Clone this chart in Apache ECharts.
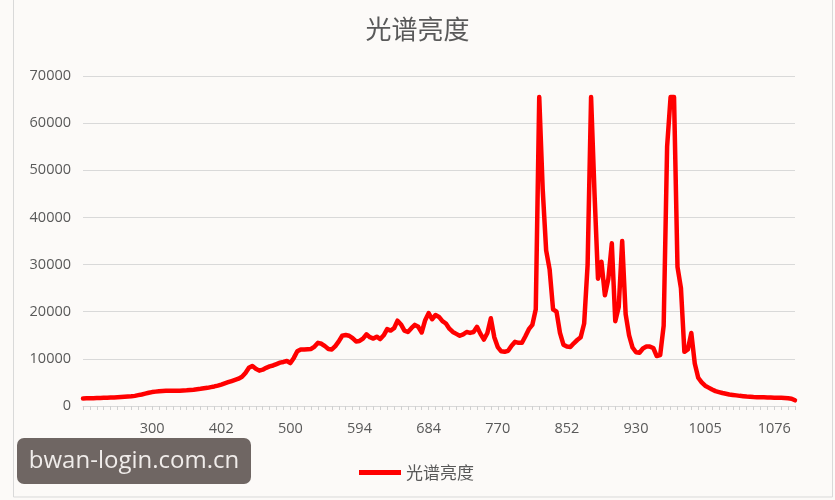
<!DOCTYPE html>
<html>
<head>
<meta charset="utf-8">
<script src="https://cdn.jsdelivr.net/npm/echarts@6/dist/echarts.min.js"></script>
<style>
html,body{margin:0;padding:0;background:#fcfaf8;}
#chart{width:835px;height:500px;}
</style>
</head>
<body>
<div id="chart"></div>
<script>
// Tick labels (wavelength, nm) shown every 20 samples
const tickLabels = ['300','402','500','594','684','770','852','930','1005','1076'];
const labelStep = 20;

// Spectrum brightness per sample (207 samples)
const brightness = [
  1600,1620,1640,1660,1680,1700,1730,1760,1790,1820,
  1860,1900,1940,1990,2050,2150,2300,2450,2620,2800,
  2950,3050,3150,3200,3220,3230,3220,3230,3260,3300,
  3340,3400,3460,3550,3640,3750,3850,4000,4150,4330,
  4550,4800,5050,5300,5550,5800,6200,7000,8100,8500,
  7900,7500,7700,8100,8400,8600,8900,9200,9350,9550,
  9100,10200,11600,12000,12000,12050,12100,12600,13400,13200,
  12700,12100,12000,12700,13700,14900,15050,14900,14400,13700,
  13800,14300,15200,14600,14300,14700,14200,15000,16300,16000,
  16500,18100,17300,16000,15700,16500,17200,16800,15600,18200,
  19700,18400,19300,18900,18000,17500,16400,15700,15300,14900,
  15200,15700,15500,15700,16800,15300,14100,15500,18600,14600,
  12500,11600,11500,11700,12800,13600,13400,13400,14800,16300,
  17200,20500,65535,46000,33000,29000,20500,20000,15500,13000,
  12600,12500,13300,14000,14600,17500,30000,65535,45000,27000,
  30600,23500,27000,34500,18000,21000,35000,19500,15000,12400,
  11400,11300,12200,12600,12600,12300,10600,10800,17000,55000,
  65535,65535,29500,25000,11500,12000,15500,9000,6000,5000,
  4300,3900,3500,3150,2950,2750,2600,2450,2350,2250,
  2150,2080,2000,1950,1900,1870,1850,1830,1800,1780,
  1770,1760,1740,1700,1650,1550,1200
];

const categories = brightness.map((_, i) => i);
const seriesName = '光谱亮度';

const chart = echarts.init(document.getElementById('chart'), null, {renderer: 'canvas'});
chart.setOption({
  backgroundColor: '#fcfaf8',
  animation: false,
  title: {
    text: '光谱亮度',
    left: 'center',
    top: 11,
    textStyle: {fontFamily: 'Noto Sans CJK SC', fontSize: 26, fontWeight: 'normal', color: '#595959'}
  },
  legend: {
    left: 354,
    top: 459,
    icon: 'rect',
    itemWidth: 42,
    itemHeight: 5,
    itemGap: 6,
    data: [seriesName],
    textStyle: {fontFamily: 'Noto Sans CJK SC', fontSize: 17, color: '#595959'}
  },
  grid: {left: 83, right: 40, top: 76, bottom: 94, containLabel: false},
  xAxis: {
    type: 'category',
    boundaryGap: false,
    data: categories,
    axisLine: {lineStyle: {color: '#d9d9d9', width: 1}},
    axisTick: {
      show: true,
      length: 4,
      interval: (idx) => idx % 2 === 0,
      lineStyle: {color: '#d0d0d0'}
    },
    axisLabel: {
      interval: (idx) => idx > 0 && idx % labelStep === 0,
      formatter: (val, idx) => {
        const k = Number(val) / labelStep - 1;
        return tickLabels[k] !== undefined ? tickLabels[k] : '';
      },
      margin: 15,
      fontFamily: 'Open Sans',
      fontSize: 14.5,
      color: '#595959'
    },
    splitLine: {show: false}
  },
  yAxis: {
    type: 'value',
    min: 0,
    max: 70000,
    interval: 10000,
    axisLine: {show: false},
    axisTick: {show: false},
    axisLabel: {
      margin: 12, fontFamily: 'Open Sans', fontSize: 14.5, color: '#595959',
      formatter: (v) => String(v)
    },
    splitLine: {lineStyle: {color: '#d9d9d9', width: 1}}
  },
  series: [{
    name: seriesName,
    type: 'line',
    data: brightness,
    symbol: 'none',
    smooth: false,
    lineStyle: {color: '#ff0000', width: 4.5, join: 'round', cap: 'round'},
    itemStyle: {color: '#ff0000'}
  }],
  graphic: [
    {
      type: 'rect',
      shape: {x: 13.5, y: -5, width: 819, height: 502},
      style: {fill: 'none', stroke: '#d9d9d9', lineWidth: 1},
      silent: true
    },
    {
      type: 'rect',
      shape: {x: 17, y: 438, width: 234, height: 46, r: 7},
      style: {fill: '#6f6663'},
      z: 100
    },
    {
      type: 'text',
      x: 134,
      y: 461,
      style: {
        text: 'bwan-login.com.cn',
        fill: '#f0ecea',
        fontFamily: 'Open Sans',
        fontSize: 24,
        align: 'center',
        verticalAlign: 'middle'
      },
      z: 101
    }
  ]
});
</script>
</body>
</html>
